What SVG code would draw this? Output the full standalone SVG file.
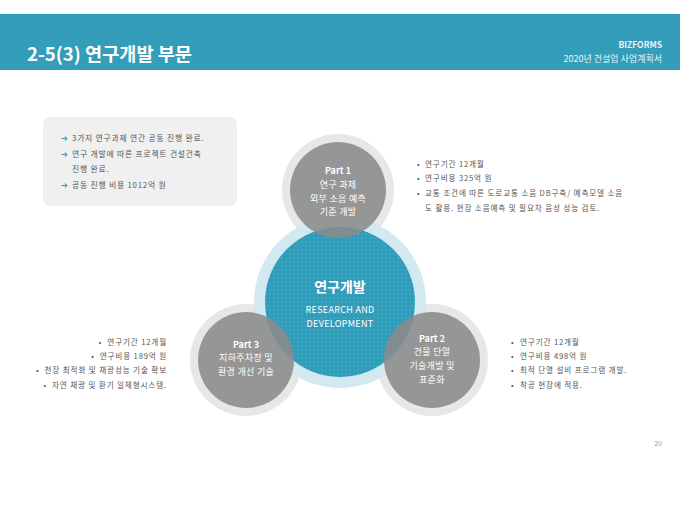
<svg xmlns="http://www.w3.org/2000/svg" width="680" height="510" viewBox="0 0 680 510">
<defs>
<style>
text{font-family:"Noto Sans CJK KR","Liberation Sans",sans-serif;}
.pt{font-size:9px;font-weight:bold;fill:#fff;text-anchor:middle;}
.ct{font-size:9px;fill:#fff;text-anchor:middle;letter-spacing:0.3px;}
.sm{font-size:7.6px;fill:#555;letter-spacing:0.85px;}
.bx{font-size:7.8px;fill:#555;letter-spacing:0.8px;}
.ar{font-size:8px;fill:#2f9bb8;font-family:"DejaVu Sans",sans-serif;}
.gray{fill:#8b8b8b;opacity:0.88;}
.halo{fill:#e7e7e7;}
</style>
<pattern id="dots" width="4" height="4" patternUnits="userSpaceOnUse">
<rect width="4" height="4" fill="#2f9cba"/>
<circle cx="2" cy="2" r="0.8" fill="#4db0c9"/>
</pattern>
</defs>
<rect width="680" height="510" fill="#fff"/>
<g id="header">
<rect x="0" y="14" width="680" height="56" fill="#349db9"/>
<text x="27" y="61" font-size="18.6" font-weight="bold" fill="#fff">2-5(3) 연구개발 부문</text>
<text x="662" y="48" font-size="8.5" font-weight="bold" fill="#e8f4f8" text-anchor="end">BIZFORMS</text>
<text x="662" y="62" font-size="9" fill="#e8f4f8" text-anchor="end">2020년 건설업 사업계획서</text>
</g>
<g id="summary">
<rect x="43" y="117" width="194" height="89" rx="7" fill="#f0f0f0"/>
<text class="ar" x="61" y="141">➔</text>
<text class="bx" x="72" y="141">3가지 연구과제 연간 공동 진행 완료.</text>
<text class="ar" x="61" y="157">➔</text>
<text class="bx" x="72" y="157">연구 개발에 따른 프로젝트 건설건축</text>
<text class="bx" x="72" y="172">진행 완료.</text>
<text class="ar" x="61" y="188">➔</text>
<text class="bx" x="72" y="188">공동 진행 비용 1012억 원</text>
</g>
<g id="halos">
<circle class="halo" cx="338" cy="190" r="56"/>
<circle class="halo" cx="246" cy="360" r="56"/>
<circle class="halo" cx="432" cy="360" r="56"/>
<circle cx="340" cy="302" r="86" fill="#d3e9f1"/>
</g>
<g id="center">
<circle cx="340" cy="302" r="75" fill="url(#dots)"/>
<text x="340" y="292" font-size="14" font-weight="bold" fill="#fff" text-anchor="middle">연구개발</text>
<text class="ct" x="340" y="313" font-size="8.5">RESEARCH AND</text>
<text class="ct" x="340" y="327" font-size="8.5">DEVELOPMENT</text>
</g>
<g id="part1">
<circle class="gray" cx="338" cy="190" r="48"/>
<text class="pt" x="338" y="174">Part 1</text>
<text class="ct" x="338" y="188">연구 과제</text>
<text class="ct" x="338" y="202">외부 소음 예측</text>
<text class="ct" x="338" y="215">기준 개발</text>
</g>
<g id="part3">
<circle class="gray" cx="246" cy="360" r="48"/>
<text class="pt" x="246" y="348">Part 3</text>
<text class="ct" x="246" y="361">지하주차장 및</text>
<text class="ct" x="246" y="375">환경 개선 기술</text>
</g>
<g id="part2">
<circle class="gray" cx="432" cy="360" r="48"/>
<text class="pt" x="432" y="342">Part 2</text>
<text class="ct" x="432" y="355">건물 단열</text>
<text class="ct" x="432" y="369">기술개발 및</text>
<text class="ct" x="432" y="383">표준화</text>
</g>
<g id="part1-notes">
<text class="sm" x="417" y="167">•</text><text class="sm" x="425" y="167">연구기간 12개월</text>
<text class="sm" x="417" y="181">•</text><text class="sm" x="425" y="181">연구비용 325억 원</text>
<text class="sm" x="417" y="196">•</text><text class="sm" x="425" y="196">교통 조건에 따른 도로교통 소음 DB구축/ 예측모델 소음</text>
<text class="sm" x="425" y="211">도 활용. 현장 소음예측 및 필요차 음성 성능 검토.</text>
</g>
<g id="part3-notes">
<text class="sm" x="167" y="345" text-anchor="end" xml:space="preserve">•  연구기간 12개월</text>
<text class="sm" x="167" y="359" text-anchor="end" xml:space="preserve">•  연구비용 189억 원</text>
<text class="sm" x="167" y="373" text-anchor="end" xml:space="preserve">•  천장 최적화 및 채광성능 기술 확보</text>
<text class="sm" x="167" y="388" text-anchor="end" xml:space="preserve">•  자연 채광 및 환기 일체형시스템.</text>
</g>
<g id="part2-notes">
<text class="sm" x="511" y="345">•</text><text class="sm" x="520" y="345">연구기간 12개월</text>
<text class="sm" x="511" y="359">•</text><text class="sm" x="520" y="359">연구비용 498억 원</text>
<text class="sm" x="511" y="373">•</text><text class="sm" x="520" y="373">최적 단열 설비 프로그램 개발.</text>
<text class="sm" x="511" y="388">•</text><text class="sm" x="520" y="388">착공 현장에 적용.</text>
</g>
<g id="connectors"></g>
<text x="662" y="446" font-size="7" fill="#999" text-anchor="end">20</text>
</svg>
